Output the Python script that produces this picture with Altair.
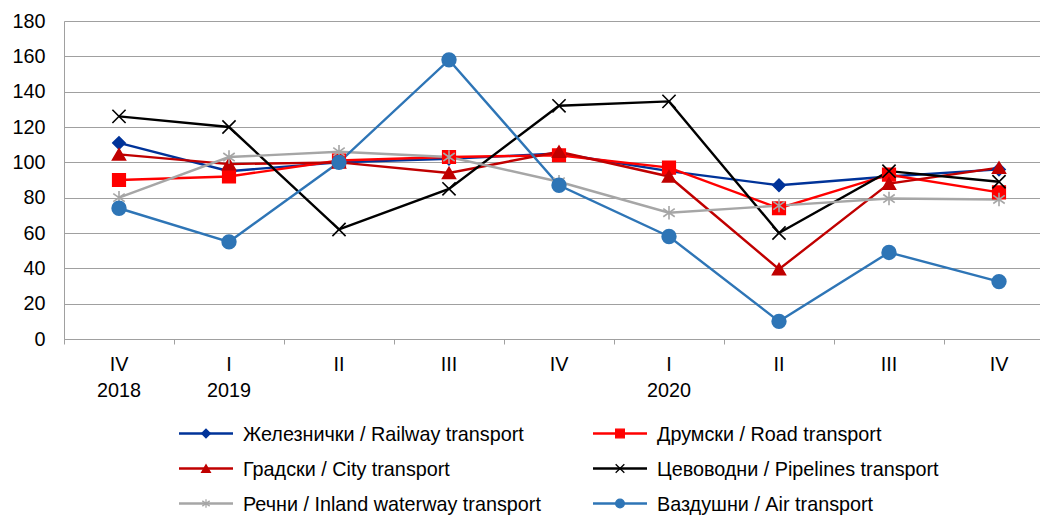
import altair as alt
import pandas as pd

periods = ["IV 2018", "I 2019", "II 2019", "III 2019", "IV 2019",
           "I 2020", "II 2020", "III 2020", "IV 2020"]
period_labels = ["IV\n2018", "I\n2019", "II", "III", "IV", "I\n2020", "II", "III", "IV"]

series_names = [
    "Железнички / Railway transport",
    "Друмски / Road transport",
    "Градски / City transport",
    "Цевоводни / Pipelines transport",
    "Речни / Inland waterway transport",
    "Ваздушни / Air transport",
]

railway = [111, 95, 100, 102, 105, 95, 87, 92, 96]
road = [90, 92, 101, 103, 104, 97, 74, 93, 83]
city = [104.5, 99, 100, 94, 106, 92, 39.5, 88, 97]
pipelines = [126, 120, 62, 85, 132, 134.5, 60, 95, 89]
waterway = [80, 103, 106, 103, 89, 71.5, 75.5, 79.5, 79]
air = [74, 55, 100, 158, 87, 58, 10, 49, 32.5]

values = [railway, road, city, pipelines, waterway, air]

colors = ["#003399", "#FF0000", "#C00000", "#000000", "#A6A6A6", "#2E75B6"]
x_path = "M-1,-1L1,1M-1,1L1,-1"
star_path = "M0,-1L0,1M-0.85,-0.6L0.85,0.6M-0.85,0.6L0.85,-0.6"
shapes = ["diamond", "square", "triangle-up", x_path, star_path, "circle"]
sizes = [150, 190, 180, 170, 180, 210]

legend_col = [0, 1, 0, 1, 0, 1]
legend_row = [0, 0, 1, 1, 2, 2]

rows = []
for si, name in enumerate(series_names):
    for pi, p in enumerate(periods):
        rows.append({"series": name, "period": p, "idx": pi, "value": values[si][pi], "ord": si})
df = pd.DataFrame(rows)

lab_df = pd.DataFrame({"idx": list(range(len(periods))), "label": period_labels, "value": 0})
leg = pd.DataFrame({"series": series_names, "lc": legend_col, "lr": legend_row})

FONT = "Liberation Sans"
FS = 19.8
VIEW_W = 976
BAND_PX = 110

color_scale = alt.Scale(domain=series_names, range=colors)
shape_scale = alt.Scale(domain=series_names, range=shapes)
size_scale = alt.Scale(domain=series_names, range=sizes)

x_scale = alt.Scale(domain=[-0.5, -0.5 + VIEW_W / BAND_PX], nice=False, zero=False)
x_axis = alt.Axis(
    title=None, values=[k - 0.5 for k in range(len(periods))], labels=False,
    ticks=True, tickSize=5, tickColor="#A0A0A0", domainColor="#A0A0A0", grid=False,
)
x_enc = alt.X("idx:Q", scale=x_scale, axis=x_axis)

y_scale = alt.Scale(domain=[0, 180], nice=False, zero=True)
y_axis = alt.Axis(
    title=None, values=list(range(0, 181, 20)), labelFont=FONT, labelFontSize=FS,
    labelColor="#000000", ticks=False, labelPadding=19, grid=True, gridColor="#A0A0A0",
    gridWidth=1, domainColor="#A0A0A0", labelOverlap=False,
)
y_enc = alt.Y("value:Q", scale=y_scale, axis=y_axis)

base = alt.Chart(df)
lines = base.mark_line(strokeWidth=2.4).encode(
    x=x_enc, y=y_enc,
    color=alt.Color("series:N", scale=color_scale, legend=None),
    detail="series:N",
    order=alt.Order("idx:Q"),
)
points = base.mark_point(filled=True, opacity=1, strokeWidth=1.6).encode(
    x=x_enc, y=y_enc,
    color=alt.Color("series:N", scale=color_scale, legend=None),
    stroke=alt.Stroke("series:N", scale=color_scale, legend=None),
    shape=alt.Shape("series:N", scale=shape_scale, legend=None),
    size=alt.Size("series:N", scale=size_scale, legend=None),
    order=alt.Order("ord:Q"),
)
xlabels = alt.Chart(lab_df).mark_text(
    baseline="top", align="center", dy=16, lineHeight=26, lineBreak="\n",
    font=FONT, fontSize=FS, color="#000000",
).encode(
    x=x_enc,
    y=y_enc,
    text="label:N",
)
main = alt.layer(lines, points, xlabels)

lx = alt.X("lc:Q", scale=alt.Scale(domain=[0, 1], range=[142, 556]), axis=None)
ly = alt.Y("lr:Q", scale=alt.Scale(domain=[0, 2], range=[412.5, 482.5]), axis=None)
lbase = alt.Chart(leg)
lrule = lbase.mark_rule(strokeWidth=2.4, xOffset=-27, x2Offset=27).encode(
    x=lx, x2="lc:Q", y=ly,
    color=alt.Color("series:N", scale=color_scale, legend=None),
)
lpoint = lbase.mark_point(filled=True, opacity=1, strokeWidth=1.3, size=75).encode(
    x=lx, y=ly,
    color=alt.Color("series:N", scale=color_scale, legend=None),
    stroke=alt.Stroke("series:N", scale=color_scale, legend=None),
    shape=alt.Shape("series:N", scale=shape_scale, legend=None),
)
ltext = lbase.mark_text(align="left", baseline="middle", dx=37, dy=1, font=FONT, fontSize=FS, color="#000000").encode(
    x=lx, y=ly, text="series:N",
)
legend_layer = alt.layer(lrule, lpoint, ltext)

chart = alt.layer(main, legend_layer).resolve_scale(x="independent", y="independent").properties(
    width=VIEW_W, height=318,
    autosize=alt.AutoSizeParams(type="none"),
    padding={"left": 56, "top": 13, "right": 0, "bottom": 176},
).configure_view(stroke=None).configure(background="#FFFFFF")

chart.save("out.html", embed_options={"renderer": "svg", "actions": False})
